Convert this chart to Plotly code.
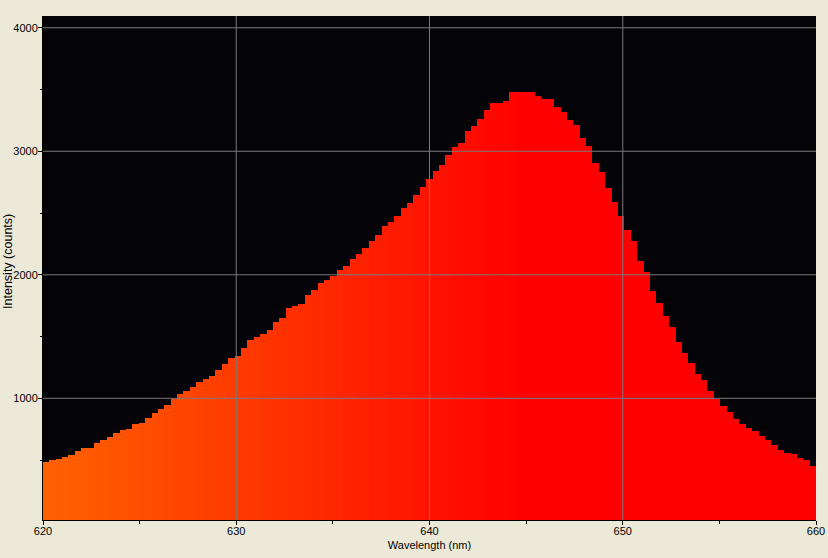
import numpy as np
import plotly.graph_objects as go

# Spectrum samples (counts), 121 bins from 620 to 660 nm
intensity = [
    484, 500, 508, 525, 541, 573, 598, 598, 638, 662,
    686, 719, 743, 751, 792, 800, 840, 881, 913, 946,
    994, 1034, 1058, 1091, 1132, 1156, 1180, 1229, 1278, 1326,
    1342, 1407, 1472, 1496, 1520, 1553, 1618, 1650, 1731, 1747,
    1763, 1836, 1877, 1933, 1958, 1990, 2039, 2071, 2128, 2168,
    2217, 2273, 2322, 2395, 2427, 2476, 2541, 2581, 2646, 2711,
    2775, 2840, 2888, 2969, 3034, 3067, 3164, 3205, 3261, 3334,
    3391, 3391, 3407, 3480, 3480, 3480, 3480, 3447, 3423, 3423,
    3359, 3318, 3250, 3210, 3104, 3040, 2902, 2830, 2700, 2588,
    2476, 2362, 2273, 2111, 2022, 1868, 1771, 1666, 1577, 1455,
    1366, 1285, 1196, 1148, 1059, 994, 937, 888, 832, 792,
    759, 735, 695, 662, 622, 581, 557, 549, 516, 500,
    452,
]
wl_min, wl_max = 620.0, 660.0
bin_width = (wl_max - wl_min) / len(intensity)
wavelength = np.round(wl_min + bin_width * (np.arange(len(intensity)) + 0.5), 4)

x_ticks = [620, 630, 640, 650, 660]
x_tick_labels = ["620", "630", "640", "650", "660"]
y_ticks = [1000, 2000, 3000, 4000]
y_tick_labels = ["1000", "2000", "3000", "4000"]
x_title = "Wavelength (nm)"
y_title = "Intensity (counts)"


def spectral_color(lam):
    g = max(0.0, min(1.0, (645.0 - lam) / 65.0))
    return f"rgb(255,{int(round(255 * g))},0)"


colors = [spectral_color(l) for l in wavelength]

fig = go.Figure()
fig.add_trace(go.Bar(
    x=wavelength,
    y=intensity,
    width=bin_width * 1.02,
    marker=dict(color=colors, line=dict(width=0)),
    hoverinfo="x+y",
))

font = dict(family="Liberation Sans, Arial, sans-serif", size=11, color="#000000")

shapes = []
for v in x_ticks[1:-1]:
    shapes.append(dict(type="line", xref="x", yref="paper", x0=v, x1=v, y0=0, y1=1,
                       line=dict(color="#7a7a7a", width=1), layer="above"))
for v in y_ticks:
    shapes.append(dict(type="line", xref="paper", yref="y", x0=0, x1=1, y0=v, y1=v,
                       line=dict(color="#7a7a7a", width=1), layer="above"))

fig.update_layout(
    width=828,
    height=558,
    margin=dict(l=43, r=12, t=16, b=38, autoexpand=False),
    paper_bgcolor="#ECE9D8",
    plot_bgcolor="#040408",
    bargap=0,
    showlegend=False,
    font=font,
    shapes=shapes,
    annotations=[dict(
        text=y_title, textangle=-90, showarrow=False,
        xref="paper", yref="paper", x=-0.0453, y=0.514,
        xanchor="center", yanchor="middle",
        font=dict(family="Liberation Sans, Arial, sans-serif", size=12.5, color="#000000"),
    )],
    xaxis=dict(
        range=[wl_min, wl_max],
        automargin=False,
        tickmode="array", tickvals=x_ticks, ticktext=x_tick_labels,
        ticks="outside", ticklen=4, tickcolor="#000000", tickwidth=1,
        ticklabelstandoff=-3,
        minor=dict(ticks="outside", ticklen=3, dtick=5, tick0=620, tickcolor="#000000", showgrid=False),
        showgrid=False, zeroline=False,
        showline=True, linecolor="#000000", linewidth=1,
        title=dict(text=x_title, font=font, standoff=5),
        tickfont=font,
        layer="above traces",
    ),
    yaxis=dict(
        range=[15, 4095],
        automargin=False,
        tickmode="array", tickvals=y_ticks, ticktext=y_tick_labels,
        ticks="outside", ticklen=4, tickcolor="#000000", tickwidth=1,
        ticklabelstandoff=-2,
        minor=dict(ticks="outside", ticklen=2, dtick=500, tick0=0, tickcolor="#000000", showgrid=False),
        showgrid=False, zeroline=False,
        showline=True, linecolor="#000000", linewidth=1,
        tickfont=font,
        layer="above traces",
    ),
)

fig.write_html(
    "out.html",
    config={"displayModeBar": False},
    post_script="document.body.style.margin='0';document.body.style.background='#ECE9D8';",
)
